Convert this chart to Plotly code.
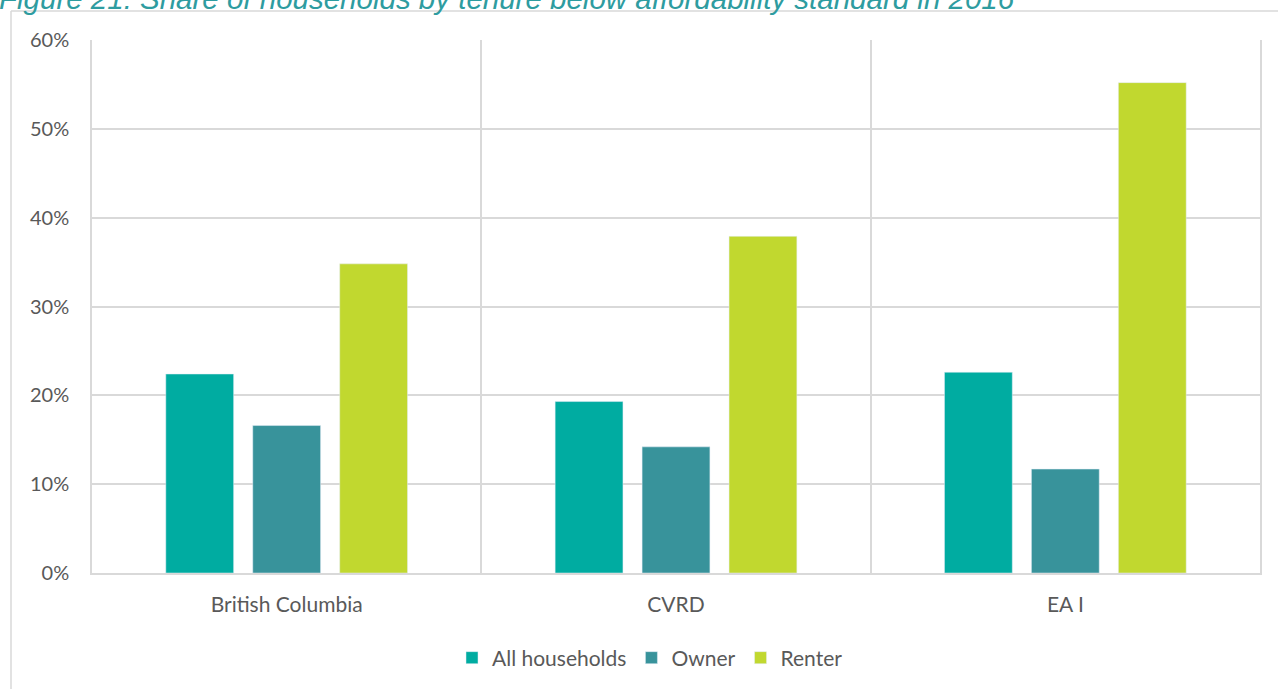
import plotly.graph_objects as go

categories = ["British Columbia", "CVRD", "EA I"]
all_households = [22.4, 19.3, 22.6]
owner = [16.6, 14.2, 11.7]
renter = [34.8, 37.9, 55.2]
y_ticks = [0, 10, 20, 30, 40, 50, 60]
y_tick_labels = ["0%", "10%", "20%", "30%", "40%", "50%", "60%"]
title_text = "Figure 21: Share of households by tenure below affordability standard in 2016"

W, H = 1278, 689
L, R, T, B = 92, 1260, 40, 574

def px_x(p):
    return (p - L) / (R - L)

def px_y(p):
    return (B - p) / (B - T)

fig = go.Figure()
fig.add_bar(name="All households", x=categories, y=all_households, marker_color="#00ACA1")
fig.add_bar(name="Owner", x=categories, y=owner, marker_color="#38939B")
fig.add_bar(name="Renter", x=categories, y=renter, marker_color="#C1D82F")

font_fam = "Lato, 'Open Sans', sans-serif"
grid = "#D9D9D9"

fig.update_layout(
    width=W, height=H,
    margin=dict(l=L, r=W - R, t=T, b=H - B, pad=0),
    paper_bgcolor="white", plot_bgcolor="white",
    barmode="group", bargap=0.33, bargroupgap=0.22,
    font=dict(family=font_fam, size=21, color="#595959"),
    showlegend=True,
    legend=dict(orientation="h", x=px_x(650), xanchor="center", y=px_y(658), yanchor="middle",
                font=dict(size=21, color="#595959"), itemwidth=30, traceorder="normal"),
    hovermode=False,
)
fig.update_xaxes(
    type="category", tickson="boundaries", showgrid=True, gridcolor=grid, gridwidth=1.5,
    showline=True, linecolor=grid, linewidth=2, ticks="", ticklabelstandoff=12,
    tickfont=dict(size=21, color="#595959"), zeroline=False,
)
fig.update_yaxes(
    range=[0, 60], tickvals=y_ticks, ticktext=y_tick_labels, showgrid=True, gridcolor=grid,
    gridwidth=1.5, showline=True, linecolor=grid, linewidth=1.5, mirror=True, ticks="",
    ticklabelstandoff=17, tickfont=dict(size=20, color="#595959"), zeroline=False,
)

# outer chart frame (left and top edges visible)
fig.add_shape(type="line", xref="paper", yref="paper",
              x0=px_x(11), x1=px_x(1300), y0=px_y(11), y1=px_y(11),
              line=dict(color=grid, width=1.5))
fig.add_shape(type="line", xref="paper", yref="paper",
              x0=px_x(11), x1=px_x(11), y0=px_y(11), y1=px_y(720),
              line=dict(color=grid, width=1.5))

fig.add_annotation(text=title_text, xref="paper", yref="paper", x=px_x(-2), xanchor="left",
                   y=px_y(16), yanchor="bottom", showarrow=False, borderpad=0,
                   font=dict(family="'Liberation Sans', Arial, sans-serif", size=29.5,
                             color="#2E9CA0", style="italic"))

fig.write_html("out.html", config={"displayModeBar": False},
               post_script="document.body.style.margin='0';document.body.style.padding='0';")
